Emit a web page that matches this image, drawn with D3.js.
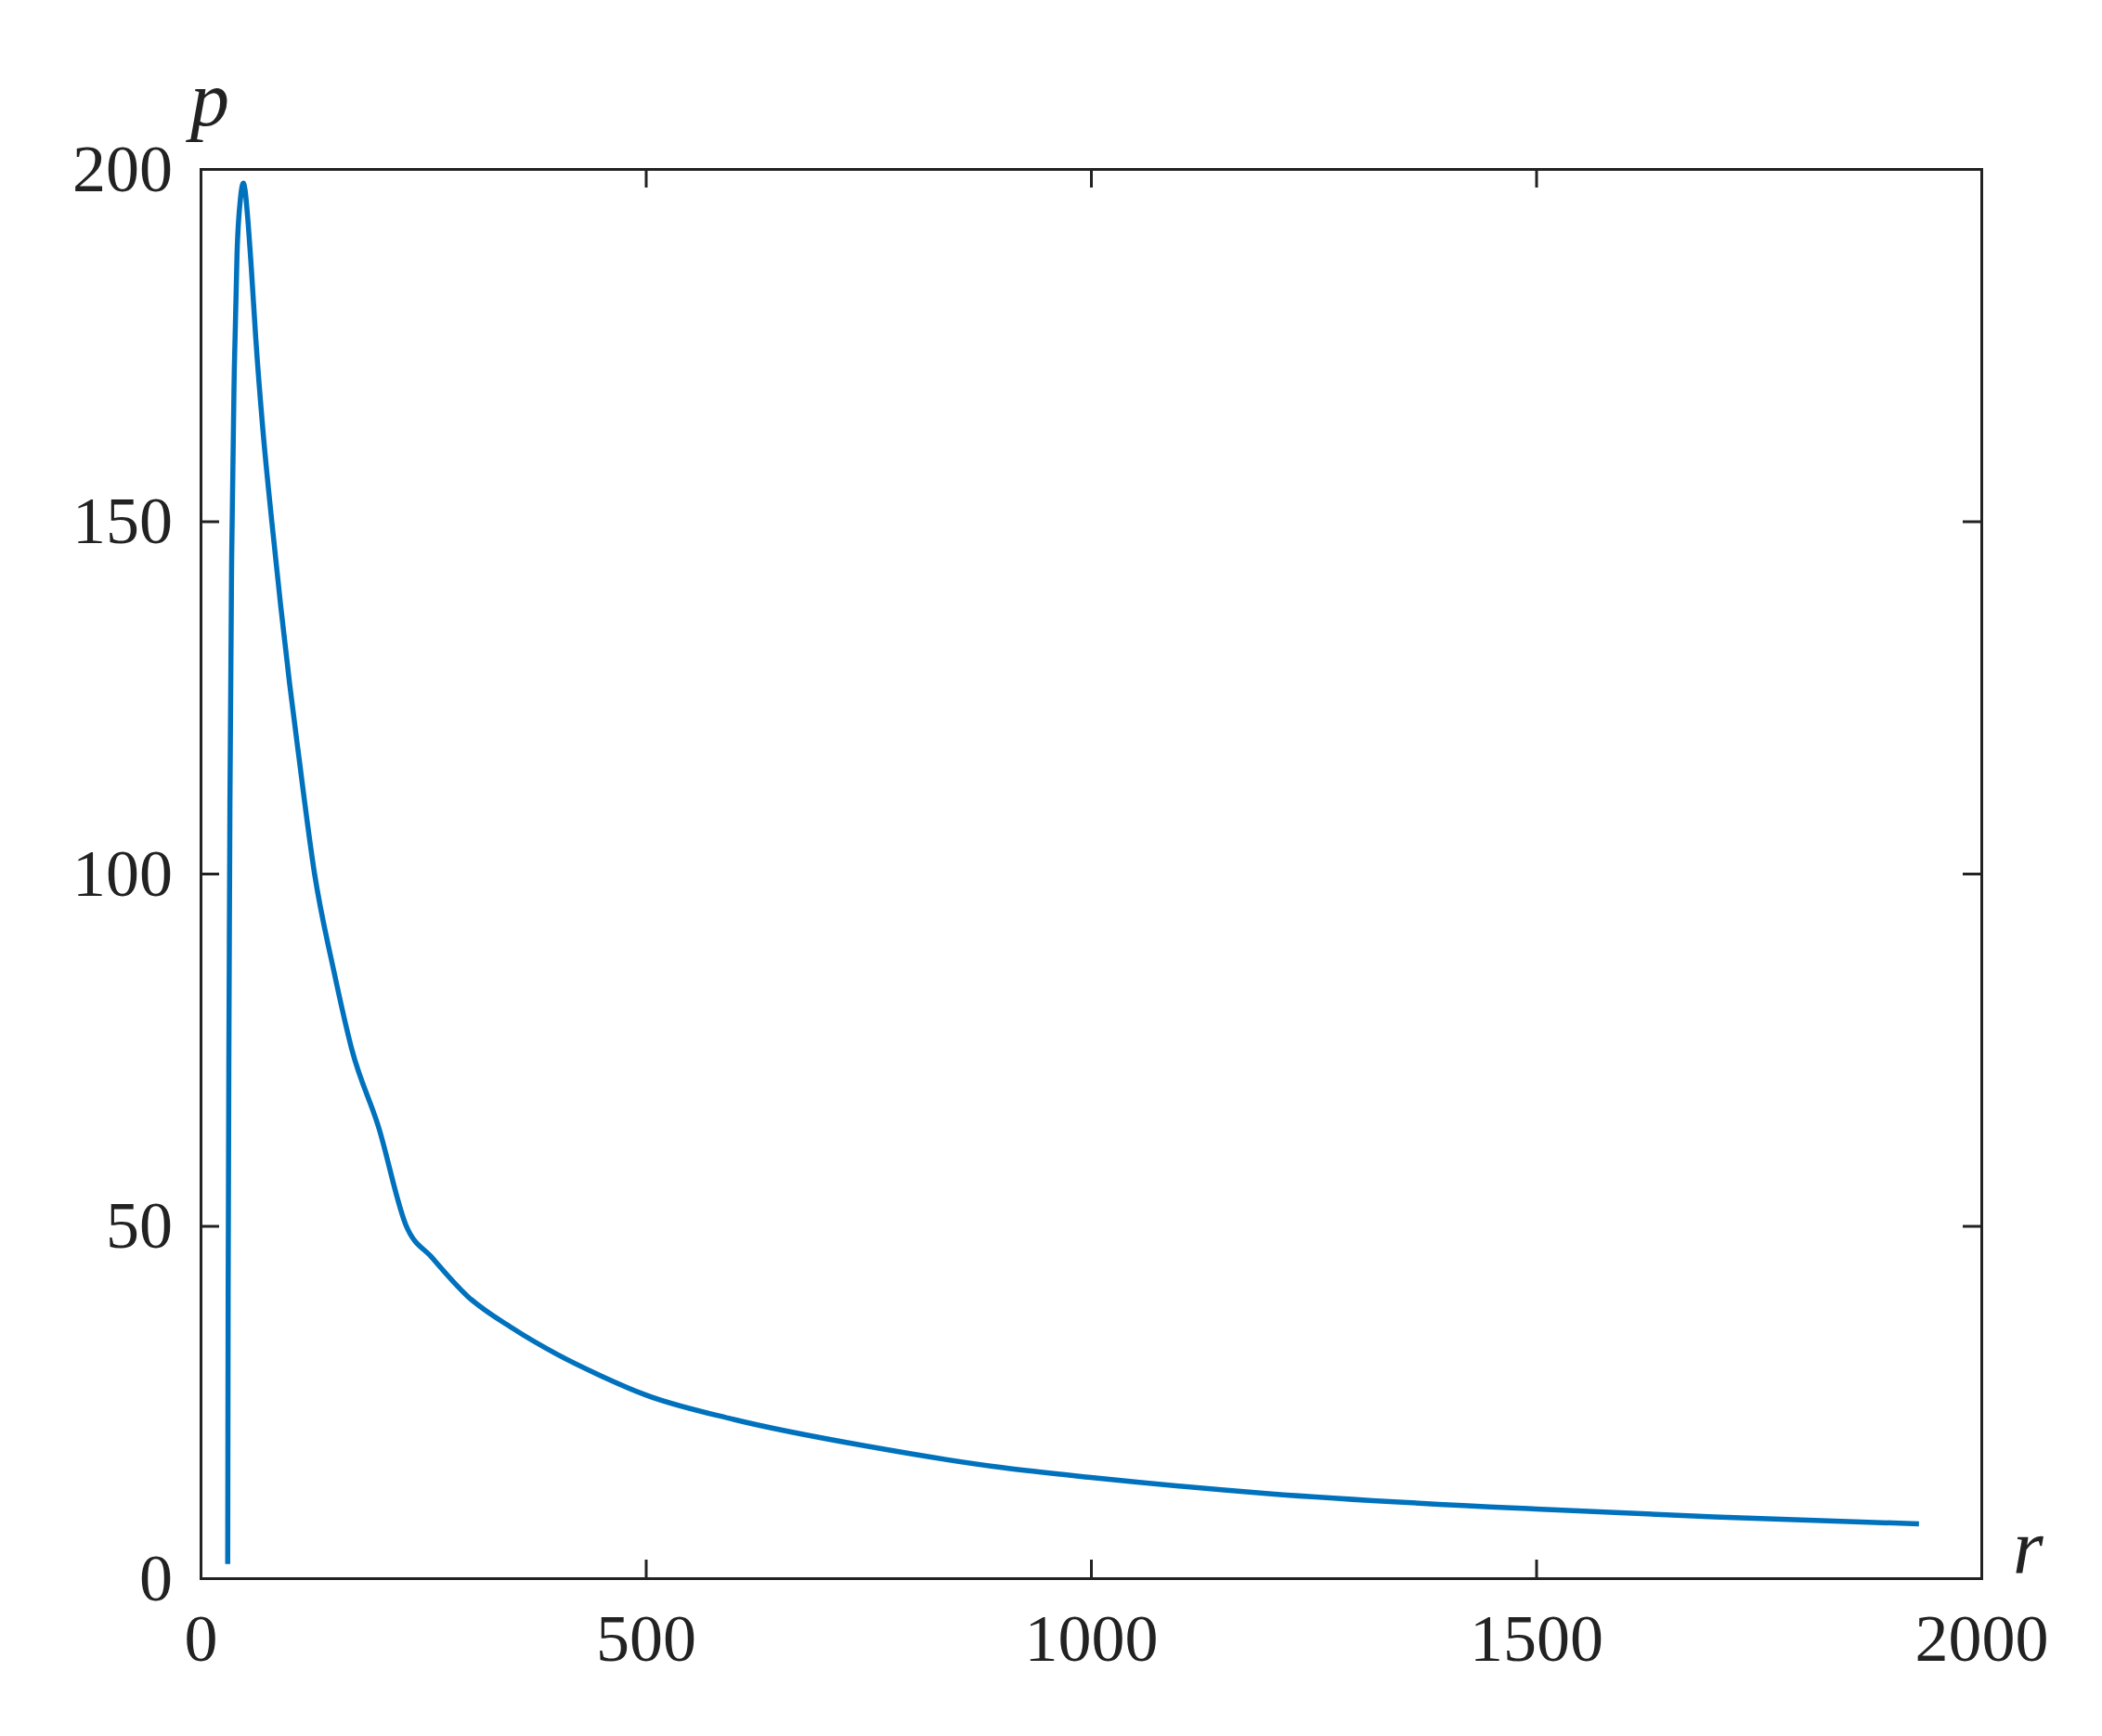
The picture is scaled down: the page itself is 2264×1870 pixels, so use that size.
<!DOCTYPE html><html><head><script src="https://cdn.jsdelivr.net/npm/d3@7"></script>
<style>body{margin:0;background:#fff}text{font-family:"Liberation Serif","Times New Roman",serif;fill:#222}</style></head><body>
<svg id="c" width="2264" height="1870"></svg>
<script>
const rVals=[30.5,31,32,33,35,38,41,45,48,50,53,57,62,70,80,90,100,110,128,150,170,200,231,260,300,350,400,450,500,600,750,900,1000,1200,1500,1700,1930];
const pVals=[2,40,80,110,145,172,188,196,198,197,193,186,176,163,150,138,127,117,100,86,75,64,50,45.5,40,35.5,31.8,28.7,26,22.5,18.7,15.7,14.3,12,9.8,8.7,7.7];
const xTicks=[0,500,1000,1500,2000], yTicks=[0,50,100,150,200];
const L=216,R=2134,T=182,B=1700;
const svg=d3.select("#c");
const x=d3.scaleLinear().domain([0,2000]).range([L,R]);
const y=d3.scaleLinear().domain([0,200]).range([B,T]);
const fs=72,tl=20;
svg.append("g").attr("transform",`translate(0,${B})`).call(d3.axisBottom(x).tickValues(xTicks).tickSize(-tl).tickPadding(tl+18).tickFormat(d3.format("d")));
svg.append("g").attr("transform",`translate(0,${T})`).call(d3.axisTop(x).tickValues(xTicks).tickSize(-tl).tickFormat(""));
svg.append("g").attr("transform",`translate(${L},0)`).call(d3.axisLeft(y).tickValues(yTicks).tickSize(-tl).tickPadding(tl+10).tickFormat(d3.format("d")));
svg.append("g").attr("transform",`translate(${R},0)`).call(d3.axisRight(y).tickValues(yTicks).tickSize(-tl).tickFormat(""));
svg.selectAll(".domain,.tick line").attr("stroke","#222").attr("stroke-width",3);
svg.selectAll(".tick text").attr("font-size",fs).style("fill","#222");
svg.append("path").datum(rVals.map((r,i)=>[r,pVals[i]])).attr("fill","none").attr("stroke","#0072BD").attr("stroke-width",5.5)
 .attr("d",d3.line().x(d=>x(d[0])).y(d=>y(d[1])).curve(d3.curveMonotoneX));
svg.append("text").attr("x",205).attr("y",135).attr("font-size",84).attr("font-style","italic").text("p");
svg.append("text").attr("x",2168).attr("y",1695).attr("font-size",84).attr("font-style","italic").text("r");
</script></body></html>
